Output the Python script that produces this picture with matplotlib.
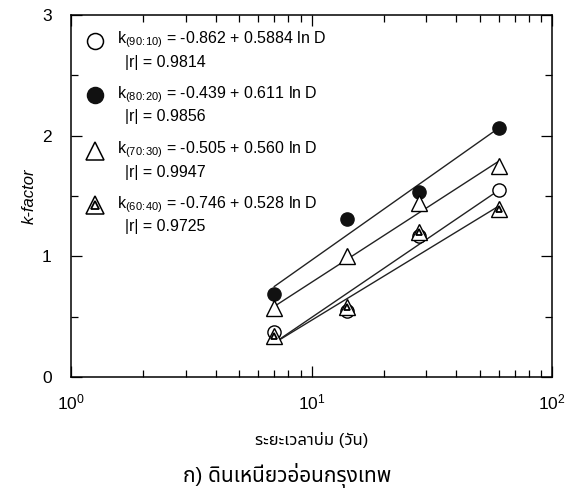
import numpy as np
import matplotlib
matplotlib.use("Agg")
import matplotlib.pyplot as plt

latin = 'Liberation Sans'
thai = [latin, 'Noto Sans Thai', 'DejaVu Sans']
plt.rcParams['font.family'] = [latin, 'DejaVu Sans']
plt.rcParams['mathtext.fontset'] = 'custom'
plt.rcParams['mathtext.rm'] = latin
plt.rcParams['mathtext.it'] = latin + ':italic'

# ข้อมูล
days = [7, 14, 28, 60]
k_90_10 = [0.37, 0.55, 1.17, 1.55]
k_80_20 = [0.69, 1.31, 1.53, 2.06]
k_70_30 = [0.57, 1.00, 1.44, 1.75]
k_60_40 = [0.34, 0.58, 1.20, 1.39]

ratios = ['90', '10'], ['80', '20'], ['70', '30'], ['60', '40']
intercepts = [-0.862, -0.439, -0.505, -0.746]
slopes = [0.5884, 0.611, 0.560, 0.528]
slope_txt = ['0.5884', '0.611', '0.560', '0.528']
r_abs = ['0.9814', '0.9856', '0.9947', '0.9725']

fig = plt.figure(figsize=(5.74, 4.99), dpi=100)
ax = fig.add_axes([0.1237, 0.2445, 0.838, 0.7255])

# เส้นสมการถดถอย k = a + b ln D
D = np.linspace(days[0], days[-1], 100)
for a, b in zip(intercepts, slopes):
    ax.plot(D, a + b * np.log(D), color='#222222', lw=1.0, zorder=2)

ms = 9.5
ax.plot(days, k_90_10, 'o', ms=ms, mfc='white', mec='black', mew=1.0, zorder=3)
ax.plot(days, k_80_20, 'o', ms=ms, mfc='#111111', mec='#111111', mew=1.0, zorder=4)
ax.plot(days, k_70_30, '^', ms=ms + 1.5, mfc='white', mec='black', mew=1.0, zorder=4)
ax.plot(days, k_60_40, '^', ms=ms + 1.5, mfc='white', mec='black', mew=1.0, zorder=5)
ax.plot(days, k_60_40, '^', ms=5, mfc='white', mec='black', mew=1.3, zorder=6)

ax.set_xscale('log')
ax.set_xlim(1, 100)
ax.set_ylim(0, 3)
ax.set_yticks([0, 1, 2, 3])
ax.set_yticks([0.5, 1.5, 2.5], minor=True)
ax.tick_params(which='both', direction='in', top=True, right=True,
               labelsize=12.5)
ax.tick_params(which='major', length=8, width=0.9)
ax.tick_params(which='minor', length=5, width=0.9)
ax.tick_params(axis='x', pad=11)
ax.tick_params(axis='y', pad=14)
for s in ax.spines.values():
    s.set_linewidth(1.1)

ax.set_ylabel('k-factor', fontsize=12, style='italic', labelpad=4)
ax.set_xlabel('ระยะเวลาบ่ม (วัน)', fontsize=12, family=thai, labelpad=14)
fig.text(0.5, 0.048, 'ก) ดินเหนียวอ่อนกรุงเทพ', fontsize=15,
         family=thai, ha='center', va='center')

# คำอธิบายสัญลักษณ์พร้อมสมการ
tr = ax.transAxes
y_rows = [0.931, 0.781, 0.627, 0.477]
styles = [dict(marker='o', mfc='white', mec='black'),
          dict(marker='o', mfc='#111111', mec='#111111'),
          dict(marker='^', mfc='white', mec='black'),
          dict(marker='^', mfc='white', mec='black')]
for i, y in enumerate(y_rows):
    st = styles[i]
    size = ms + 4 if st['marker'] == '^' else ms + 2
    ax.plot([0.05], [y - 0.003], transform=tr, ls='none', ms=size, mew=1.1,
            clip_on=False, zorder=6, **st)
    if i == 3:
        ax.plot([0.05], [y - 0.003], transform=tr, marker='^', ms=6,
                mfc='white', mec='black', mew=1.3, ls='none', zorder=7)
    lo, hi = ratios[i]
    sub = r'$_{(' + lo + r'\!:\!' + hi + ')}$'
    ax.text(0.095, y, 'k' + sub + ' = ' + f'{intercepts[i]:.3f} + '
            + slope_txt[i] + ' ln D', transform=tr, fontsize=11.5,
            va='center', ha='left')
    ax.text(0.112, y - 0.062, '|r| = ' + r_abs[i], transform=tr,
            fontsize=11.5, va='center', ha='left')

fig.savefig('out.png', dpi=100)
